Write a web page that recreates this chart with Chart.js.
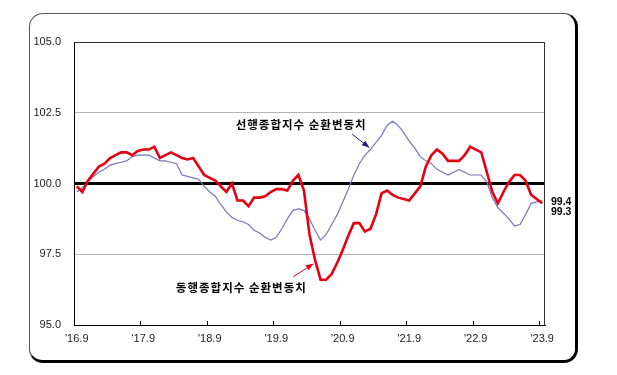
<!DOCTYPE html>
<html>
<head>
<meta charset="utf-8">
<script src="https://cdn.jsdelivr.net/npm/chart.js@4.4.1/dist/chart.umd.min.js"></script>
<style>
  html, body { margin: 0; padding: 0; background: #fff; }
  #wrap { position: relative; width: 617px; height: 375px; }
  #frame {
    position: absolute; left: 29px; top: 13px; width: 549px; height: 350px;
    box-sizing: border-box; border: 1px solid #555;
    border-right: 3px solid #000; border-bottom: 3px solid #000;
    border-radius: 14px;
  }
  #chart { position: absolute; left: 0; top: 0; }
</style>
</head>
<body>
<div id="wrap">
  <div id="frame"></div>
  <canvas id="chart" width="617" height="375"></canvas>
</div>
<script>
// monthly, 2016.9 ~ 2023.9
const startYear = 2016, startMonth = 9, monthCount = 85;
const months = [];
for (let i = 0; i < monthCount; i++) {
  const m = startMonth - 1 + i;
  months.push((startYear + Math.floor(m / 12)) + '.' + (m % 12 + 1));
}
const xTickLabels = ["'16.9", "'17.9", "'18.9", "'19.9", "'20.9", "'21.9", "'22.9", "'23.9"];
const yTicks = [95.0, 97.5, 100.0, 102.5, 105.0];

const seriesNames = ['동행종합지수 순환변동치', '선행종합지수 순환변동치'];

// 동행종합지수 순환변동치 (coincident)
const coincident = [
  99.9, 99.7, 100.1, 100.35, 100.6, 100.7, 100.9, 101.0, 101.1, 101.1,
  101.0, 101.15, 101.2, 101.2, 101.3, 100.9, 101.0, 101.1, 101.0, 100.9,
  100.85, 100.9, 100.6, 100.3, 100.2, 100.1, 99.9, 99.7, 100.0, 99.4,
  99.4, 99.2, 99.5, 99.5, 99.55, 99.7, 99.8, 99.8, 99.75, 100.1,
  100.3, 99.75, 98.2, 97.3, 96.6, 96.6, 96.8, 97.2, 97.65, 98.15,
  98.6, 98.6, 98.3, 98.4, 98.9, 99.65, 99.75, 99.6, 99.5, 99.45,
  99.4, 99.65, 99.9, 100.6, 101.0, 101.2, 101.05, 100.8, 100.8, 100.8,
  101.0, 101.3, 101.2, 101.1, 100.4, 99.7, 99.3, 99.7, 100.05, 100.3,
  100.3, 100.1, 99.6, 99.45, 99.3
];

// 선행종합지수 순환변동치 (leading)
const leading = [
  99.7, 99.85, 100.05, 100.25, 100.4, 100.5, 100.65, 100.7, 100.75, 100.8,
  100.95, 101.0, 101.0, 101.0, 100.9, 100.8, 100.8, 100.75, 100.7, 100.3,
  100.25, 100.2, 100.15, 99.9, 99.7, 99.55, 99.25, 99.0, 98.8, 98.7,
  98.65, 98.55, 98.35, 98.25, 98.1, 98.0, 98.1, 98.4, 98.75, 99.05,
  99.1, 99.05, 98.75, 98.35, 98.0, 98.2, 98.55, 98.9, 99.35, 99.8,
  100.3, 100.7, 101.0, 101.2, 101.45, 101.7, 102.05, 102.2, 102.05, 101.8,
  101.5, 101.25, 100.95, 100.8, 100.7, 100.5, 100.4, 100.3, 100.4, 100.5,
  100.4, 100.3, 100.3, 100.3, 100.05, 99.5, 99.15, 98.95, 98.75, 98.5,
  98.55, 98.9, 99.3, 99.35, 99.4
];

const RED = '#e60012';
const BLUE = '#7777bb';

function arrow(ctx, x1, y1, x2, y2, color) {
  const a = Math.atan2(y2 - y1, x2 - x1);
  ctx.save();
  ctx.strokeStyle = color;
  ctx.fillStyle = color;
  ctx.lineWidth = 1;
  ctx.beginPath();
  ctx.moveTo(x1, y1);
  ctx.lineTo(x2, y2);
  ctx.stroke();
  ctx.beginPath();
  ctx.moveTo(x2, y2);
  ctx.lineTo(x2 - 8 * Math.cos(a - 0.38), y2 - 8 * Math.sin(a - 0.38));
  ctx.lineTo(x2 - 8 * Math.cos(a + 0.38), y2 - 8 * Math.sin(a + 0.38));
  ctx.closePath();
  ctx.fill();
  ctx.restore();
}

const decor = {
  id: 'decor',
  afterDraw(chart) {
    const { ctx, chartArea: ca, scales: { x, y } } = chart;
    ctx.save();
    // plot frame
    ctx.strokeStyle = '#333';
    ctx.lineWidth = 1;
    ctx.beginPath();
    ctx.moveTo(ca.left, ca.top + 0.5);
    ctx.lineTo(ca.right - 0.5, ca.top + 0.5);
    ctx.lineTo(ca.right - 0.5, ca.bottom);
    ctx.stroke();
    // inner tick marks at category boundaries
    const half = (x.getPixelForValue(1) - x.getPixelForValue(0)) / 2;
    ctx.strokeStyle = '#000';
    for (let i = 12; i < monthCount; i += 12) {
      const px = Math.round(x.getPixelForValue(i) - half) + 0.5;
      ctx.beginPath();
      ctx.moveTo(px, ca.bottom);
      ctx.lineTo(px, ca.bottom - 4);
      ctx.stroke();
    }
    // series labels
    ctx.fillStyle = '#000';
    ctx.font = 'bold 11.5px "Noto Sans CJK KR", sans-serif';
    ctx.letterSpacing = '1px';
    ctx.textAlign = 'center';
    ctx.textBaseline = 'middle';
    ctx.fillText(seriesNames[1], x.getPixelForValue(40.5), y.getPixelForValue(102.09));
    ctx.fillText(seriesNames[0], x.getPixelForValue(29.7), y.getPixelForValue(96.32));
    ctx.letterSpacing = '0px';
    arrow(ctx, x.getPixelForValue(49.7), y.getPixelForValue(101.74),
      x.getPixelForValue(52.8), y.getPixelForValue(101.27), '#1e1e7c');
    arrow(ctx, x.getPixelForValue(39.1), y.getPixelForValue(96.71),
      x.getPixelForValue(42.7), y.getPixelForValue(97.16), RED);
    // last values
    const last = monthCount - 1;
    const yl = y.getPixelForValue(leading[last]);
    const yc = y.getPixelForValue(coincident[last]);
    const mid = (yl + yc) / 2;
    ctx.font = 'bold 10.5px "Liberation Sans", sans-serif';
    ctx.textAlign = 'left';
    ctx.fillText(leading[last].toFixed(1), ca.right + 6, mid);
    ctx.fillText(coincident[last].toFixed(1), ca.right + 6, mid + 10);
    ctx.restore();
  }
};

new Chart(document.getElementById('chart').getContext('2d'), {
  type: 'line',
  data: {
    labels: months,
    datasets: [
      { label: seriesNames[0], data: coincident, borderColor: RED, borderWidth: 2.6,
        pointRadius: 0, tension: 0, fill: false },
      { label: seriesNames[1], data: leading, borderColor: BLUE, borderWidth: 1.2,
        pointRadius: 0, tension: 0, fill: false }
    ]
  },
  options: {
    responsive: false,
    animation: false,
    devicePixelRatio: 1,
    layout: { padding: { left: 29, top: 42, right: 72, bottom: 25 } },
    plugins: { legend: { display: false }, tooltip: { enabled: false } },
    scales: {
      x: {
        type: 'category',
        offset: true,
        grid: { display: true, drawOnChartArea: false, drawTicks: false, offset: true },
        border: { display: true, color: '#000', width: 1 },
        ticks: {
          autoSkip: false, maxRotation: 0, minRotation: 0, padding: 7,
          color: '#222', font: { family: 'Liberation Sans', size: 11 },
          callback: (v, i) => (i % 12 === 0 ? xTickLabels[i / 12] : '')
        },
        afterFit: s => { s.height = 25; }
      },
      y: {
        min: yTicks[0], max: yTicks[yTicks.length - 1],
        afterBuildTicks: s => { s.ticks = yTicks.map(v => ({ value: v })); },
        grid: {
          drawTicks: false,
          color: c => c.tick.value === 100 ? '#000' : (c.tick.value === 95 || c.tick.value === 105 ? '#333' : '#b4b4b4'),
          lineWidth: c => c.tick.value === 100 ? 3 : 1
        },
        border: { display: true, color: '#000', width: 1 },
        ticks: {
          padding: 13, color: '#222', font: { family: 'Liberation Sans', size: 11 },
          callback: v => Number(v).toFixed(1)
        },
        afterFit: s => { s.width = 45; }
      }
    }
  },
  plugins: [decor]
});
</script>
</body>
</html>
